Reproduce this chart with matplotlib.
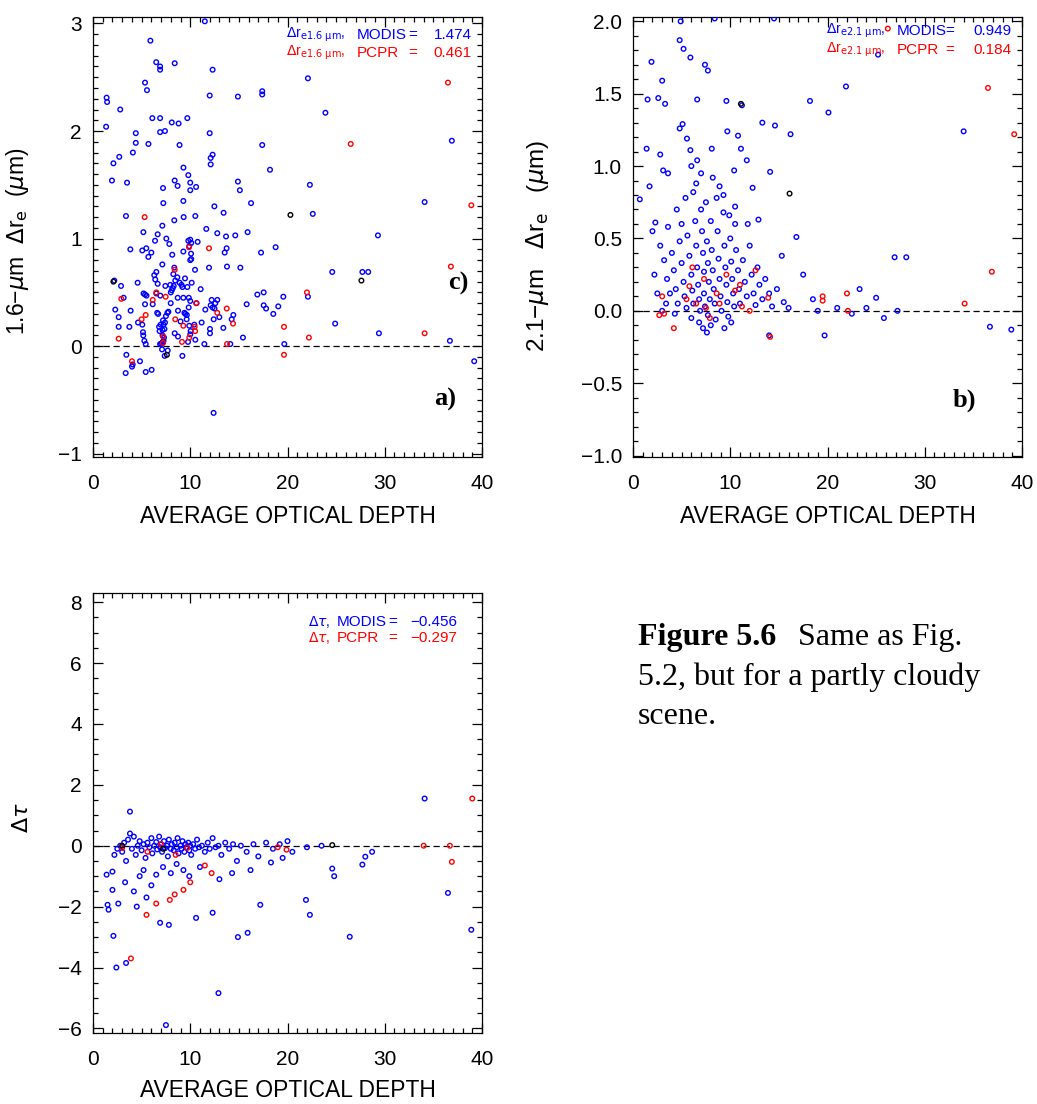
import matplotlib
matplotlib.use("Agg")
import matplotlib.pyplot as plt
import numpy as np
from matplotlib.ticker import MultipleLocator

plt.rcParams['font.family'] = ['Liberation Sans', 'DejaVu Sans']

BLUE = '#0000ff'
RED = '#ff0000'

# ---- panel a : 1.6 um delta r_e ----
a_modis = [
    (1.4, 2.31), (1.45, 2.27), (1.35, 2.04), (2.8, 2.2), (5.9, 2.84), (6.5, 2.64), (6.9, 2.6),
    (6.9, 2.57), (8.4, 2.63), (5.35, 2.45), (5.55, 2.38), (6.1, 2.12), (6.9, 2.12), (8.1, 2.08),
    (8.8, 2.07), (9.7, 2.12), (12.0, 2.33), (12.3, 2.57), (11.5, 3.02), (14.9, 2.32), (17.4, 2.37),
    (17.4, 2.34), (22.1, 2.49), (23.9, 2.17), (2.1, 1.70), (1.95, 1.54), (2.7, 1.76), (3.5, 1.52),
    (4.1, 1.80), (4.4, 1.89), (4.4, 1.98), (5.7, 1.88), (6.9, 1.99), (7.4, 2.0), (8.9, 1.87),
    (9.3, 1.66), (9.8, 1.59), (10.0, 1.52), (10.0, 1.45), (10.6, 1.48), (12.1, 1.69), (12.1, 1.75),
    (12.3, 1.78), (12.0, 1.98), (8.7, 1.49), (8.4, 1.54), (7.2, 1.47), (14.9, 1.53), (15.1, 1.45),
    (17.4, 1.87), (18.2, 1.64), (22.3, 1.5), (22.6, 1.23), (36.9, 1.91), (29.3, 1.03), (34.1, 1.34),
    (27.7, 0.69), (28.3, 0.69), (24.6, 0.69), (22.1, 0.46), (24.9, 0.21), (29.4, 0.12), (36.7, 0.05),
    (39.2, -0.14), (12.4, -0.62),
    (7.23, 1.33), (9.29, 1.35), (3.39, 1.21), (12.48, 1.30), (13.43, 1.24), (16.25, 1.33),
    (7.13, 1.12), (8.36, 1.17), (9.32, 1.20), (10.52, 1.21), (5.18, 1.06), (6.65, 1.04), (6.38, 0.98),
    (7.54, 1.0), (7.85, 0.95), (9.8, 0.98), (10.1, 0.96), (9.9, 0.93), (10.0, 0.99), (10.76, 0.97),
    (9.29, 0.88), (10.08, 0.86), (3.84, 0.90), (5.07, 0.89), (5.48, 0.91), (6.0, 0.87), (5.69, 0.83),
    (8.15, 0.85), (10.0, 0.80), (10.1, 0.81), (11.65, 1.09), (12.78, 1.05), (13.68, 1.02),
    (14.63, 1.03), (15.9, 1.06), (13.54, 0.87), (13.74, 0.91), (17.28, 0.87), (18.78, 0.92),
    (7.13, 0.76), (8.36, 0.73), (10.49, 0.71), (11.93, 0.73), (13.78, 0.74), (15.15, 0.73),
    (6.3, 0.66), (6.4, 0.62), (6.51, 0.69), (8.26, 0.67), (8.67, 0.64), (8.46, 0.61), (9.46, 0.63),
    (2.19, 0.61), (4.59, 0.59), (2.88, 0.56), (6.65, 0.58), (7.44, 0.56), (7.95, 0.57), (8.91, 0.59),
    (9.1, 0.57), (9.2, 0.55), (9.7, 0.55), (10.15, 0.59), (8.1, 0.52), (8.2, 0.54), (8.3, 0.56),
    (8.0, 0.50), (6.51, 0.49), (5.2, 0.49), (5.35, 0.48), (5.5, 0.47), (6.92, 0.47), (8.71, 0.45),
    (9.29, 0.45), (9.85, 0.45), (10.0, 0.42), (11.07, 0.53), (12.2, 0.43), (12.78, 0.43),
    (16.9, 0.48), (17.55, 0.50), (19.57, 0.46), (3.15, 0.45), (2.29, 0.34), (3.87, 0.33),
    (6.14, 0.39), (5.35, 0.39), (7.99, 0.40), (9.84, 0.36), (10.65, 0.40), (12.1, 0.38), (12.3, 0.36),
    (12.5, 0.35), (11.55, 0.34), (12.58, 0.40), (15.8, 0.39), (17.55, 0.38), (17.8, 0.35),
    (19.05, 0.37), (18.54, 0.30), (2.64, 0.27), (4.63, 0.22), (5.07, 0.20), (6.6, 0.31), (6.7, 0.30),
    (7.5, 0.28), (7.65, 0.31), (7.75, 0.32), (8.74, 0.33), (9.4, 0.31), (9.5, 0.30), (9.65, 0.29),
    (9.63, 0.25), (9.0, 0.23), (10.42, 0.20), (9.9, 0.19), (10.04, 0.14), (10.0, 0.11), (11.17, 0.22),
    (12.41, 0.25), (12.99, 0.27), (14.43, 0.29), (14.26, 0.25), (13.4, 0.17), (12.03, 0.16),
    (12.03, 0.12), (15.42, 0.08), (11.45, 0.02), (14.12, 0.02), (10.52, 0.06), (9.77, 0.04),
    (8.4, 0.12), (8.74, 0.09), (5.14, 0.13), (5.17, 0.10), (5.28, 0.05), (5.42, 0.02), (6.8, 0.18),
    (6.95, 0.20), (6.85, 0.14), (7.15, 0.15), (7.25, 0.20), (7.35, 0.16), (7.2, 0.24), (7.4, 0.22),
    (7.15, 0.10), (7.3, 0.08), (7.25, 0.05), (7.2, 0.04), (7.1, 0.03), (6.9, 0.02), (7.0, 0.02),
    (3.74, 0.18), (2.64, 0.18), (7.1, -0.03), (7.68, -0.04), (7.37, -0.09), (3.43, -0.08),
    (4.08, -0.17), (4.01, -0.19), (4.83, -0.14), (3.36, -0.25), (5.42, -0.24), (6.03, -0.22),
    (9.19, -0.09), (19.67, 0.02),
]
a_pcpr = [
    (5.31, 1.20), (9.87, 0.92), (11.93, 0.91), (8.4, 0.71), (7.47, 0.46), (6.51, 0.50), (6.14, 0.43),
    (2.91, 0.44), (10.6, 0.40), (13.75, 0.35), (5.0, 0.25), (5.42, 0.29), (8.46, 0.25), (9.29, 0.19),
    (10.45, 0.18), (10.5, 0.14), (12.78, 0.31), (14.4, 0.21), (13.78, 0.02), (9.9, 0.08),
    (9.15, 0.04), (7.2, 0.09), (7.2, 0.03), (2.64, 0.07), (4.01, -0.14), (19.64, 0.18),
    (19.64, -0.08), (36.5, 2.45), (26.5, 1.88), (38.9, 1.31), (36.8, 0.74), (22.0, 0.50),
    (34.1, 0.12), (22.2, 0.08),
]
a_other = [(20.3, 1.22), (27.6, 0.61), (2.1, 0.60), (7.6, -0.08)]

# ---- panel b : 2.1 um delta r_e ----
b_modis = [
    (4.9, 2.0), (8.4, 2.02), (14.5, 2.02), (25.2, 1.77), (1.5, 1.46), (2.6, 1.47), (1.9, 1.72),
    (3.0, 1.59), (4.8, 1.87), (5.2, 1.81), (5.9, 1.75), (7.4, 1.70), (7.7, 1.66), (6.6, 1.46),
    (9.6, 1.45), (11.2, 1.42), (13.3, 1.30), (14.6, 1.28), (18.2, 1.45), (20.1, 1.37), (21.9, 1.55),
    (34.0, 1.24), (0.7, 0.77), (1.7, 0.86), (2.8, 1.08), (3.1, 0.97), (3.6, 0.95), (4.8, 1.26),
    (5.1, 1.29), (5.55, 1.19), (5.9, 1.11), (6.6, 1.04), (8.1, 1.12), (9.7, 1.24), (10.8, 1.21),
    (11.1, 1.12), (11.7, 1.04), (14.1, 0.96), (16.2, 1.22), (2.0, 0.55), (2.3, 0.61), (26.9, 0.37),
    (23.3, 0.15), (25.0, 0.09), (19.7, -0.17), (38.9, -0.13), (36.7, -0.11),
    (1.4, 1.12), (3.3, 1.43), (6.0, 1.0), (6.5, 0.88), (7.0, 0.95), (8.2, 0.92), (8.9, 0.86),
    (9.3, 0.80), (10.4, 0.97), (12.3, 0.85), (12.9, 0.63), (10.5, 0.72), (11.8, 0.60), (15.3, 0.38),
    (16.8, 0.51), (17.5, 0.25), (18.5, 0.08), (21.0, 0.02), (24.0, 0.02), (25.8, -0.05),
    (28.1, 0.37), (22.5, -0.02), (19.0, 0.0), (27.2, 0.0),
    (3.2, 0.35), (3.5, 0.22), (3.8, 0.12), (3.4, 0.05), (4.0, 0.40), (4.2, 0.28), (4.4, 0.15),
    (4.6, 0.05), (4.3, -0.02), (4.8, 0.48), (5.0, 0.33), (5.2, 0.20), (5.3, 0.10), (5.5, 0.02),
    (5.0, 0.60), (5.6, 0.52), (5.8, 0.38), (6.0, 0.25), (6.1, 0.14), (6.2, 0.05), (6.0, -0.05),
    (6.4, 0.62), (6.5, 0.45), (6.6, 0.30), (6.7, 0.18), (6.8, 0.08), (6.9, 0.0), (6.8, -0.08),
    (7.0, 0.70), (7.1, 0.55), (7.2, 0.40), (7.3, 0.27), (7.3, 0.12), (7.4, 0.03), (7.2, -0.12),
    (7.6, 0.48), (7.7, 0.33), (7.8, 0.20), (7.9, 0.08), (7.7, -0.03), (8.0, 0.62), (8.1, 0.42),
    (8.2, 0.28), (8.3, 0.15), (8.4, 0.05), (8.5, -0.06), (8.7, 0.55), (8.8, 0.36), (8.9, 0.22),
    (9.0, 0.10), (9.1, 0.0), (9.3, 0.68), (9.4, 0.45), (9.5, 0.30), (9.6, 0.18), (9.7, 0.06),
    (9.8, -0.04), (10.0, 0.50), (10.1, 0.34), (10.2, 0.22), (10.3, 0.12), (10.4, 0.03),
    (10.6, 0.42), (10.8, 0.28), (10.9, 0.15), (11.0, 0.05), (11.3, 0.35), (11.5, 0.20),
    (11.7, 0.10), (12.0, 0.45), (12.2, 0.25), (12.4, 0.12), (12.6, 0.04), (12.8, 0.30),
    (13.0, 0.18), (13.3, 0.08), (13.6, 0.22), (14.0, 0.12), (14.3, 0.03), (14.8, 0.15),
    (15.5, 0.06), (16.0, 0.02), (3.0, 0.0), (2.5, 0.12), (2.2, 0.25), (2.8, 0.45), (3.6, 0.58),
    (4.5, 0.70), (5.4, 0.78), (6.2, 0.82), (7.5, 0.75), (8.6, 0.78), (9.9, 0.66), (10.5, 0.60),
    (7.6, -0.15), (8.0, -0.10), (9.4, -0.12), (10.1, -0.08), (14.0, -0.17),
]
b_pcpr = [
    (26.2, 1.95), (36.5, 1.54), (39.2, 1.22), (36.9, 0.27), (34.1, 0.05), (22.0, 0.12), (22.1, 0.0),
    (19.5, 0.10), (19.5, 0.07), (3.0, 0.10), (3.2, -0.02), (4.2, -0.12), (5.5, 0.08), (5.8, 0.17),
    (6.5, 0.05), (7.3, 0.22), (7.5, 0.02), (7.9, -0.05), (8.6, 0.12), (8.9, 0.05), (9.6, 0.25),
    (10.5, 0.14), (11.0, 0.18), (11.2, 0.03), (12.6, 0.28), (12.0, 0.0), (14.1, -0.18),
    (13.9, 0.09), (6.1, 0.3), (2.7, -0.03),
]
b_other = [(11.1, 1.43), (16.1, 0.81)]

# ---- panel c : delta tau ----
c_modis = [
    (2.0, -0.85), (2.2, -0.3), (2.5, -0.1), (2.8, 0.0), (3.0, -0.2), (3.2, 0.1), (3.4, -0.5),
    (3.6, 0.2), (3.8, 0.4), (3.8, 1.12), (4.0, -0.1), (4.2, 0.3), (4.4, -0.3), (4.6, 0.0),
    (4.8, 0.15), (5.0, -0.15), (5.2, 0.05), (5.4, -0.4), (5.6, 0.1), (5.8, -0.05), (6.0, 0.25),
    (6.1, -0.25), (6.3, 0.0), (6.5, 0.12), (6.6, -0.12), (6.8, 0.3), (6.9, -0.05), (7.0, 0.05),
    (7.1, -0.2), (7.3, 0.15), (7.4, -0.08), (7.6, 0.0), (7.7, -0.35), (7.8, 0.2), (8.0, -0.1),
    (8.1, 0.05), (8.3, -0.15), (8.4, 0.1), (8.6, -0.05), (8.7, 0.25), (8.8, -0.25), (9.0, 0.0),
    (9.1, -0.1), (9.2, 0.15), (9.4, -0.2), (9.5, 0.05), (9.6, -0.05), (9.8, 0.1), (9.9, -0.15),
    (10.0, 0.0), (10.1, -0.3), (10.3, 0.05), (10.5, -0.1), (10.7, 0.2), (10.9, -0.05), (11.2, 0.0),
    (11.5, -0.2), (11.8, 0.1), (12.0, -0.1), (12.3, 0.25), (12.6, -0.05), (12.9, 0.0),
    (13.2, -0.3), (13.6, 0.1), (14.0, -0.1), (14.4, 0.05), (14.8, -0.5), (15.2, 0.0), (15.8, -0.2),
    (16.5, 0.05), (17.0, -0.35), (17.8, 0.1), (18.5, -0.1), (19.2, 0.05), (20.0, 0.15),
    (20.5, -0.2), (22.0, -0.05), (23.5, 0.0),
    (1.5, -1.94), (1.6, -2.1), (1.4, -0.95), (2.0, -1.45), (2.6, -1.9), (2.1, -2.96), (2.4, -4.0),
    (3.4, -3.85), (3.3, -1.2), (4.2, -1.5), (4.8, -1.0), (5.2, -0.8), (6.0, -1.3), (6.5, -0.95),
    (6.9, -2.53), (7.8, -2.6), (7.2, -0.7), (8.0, -0.9), (8.6, -0.6), (9.3, -0.8), (9.9, -1.0),
    (10.6, -2.37), (11.0, -0.7), (12.3, -2.2), (12.9, -4.84), (7.5, -5.89), (14.9, -3.0),
    (15.9, -2.86), (17.2, -1.94), (13.0, -1.1), (14.3, -0.9), (16.2, -0.8), (18.3, -0.55),
    (19.5, -0.4), (21.9, -1.78), (22.3, -2.27), (24.8, -1.0), (24.6, -0.75), (26.4, -2.99),
    (27.7, -0.62), (28.0, -0.36), (28.7, -0.2), (36.5, -1.55), (38.9, -2.76), (34.1, 1.55),
    (5.5, -1.7), (4.5, -2.0),
]
c_pcpr = [
    (39.0, 1.55), (36.7, 0.0), (36.9, -0.53), (3.9, -3.7), (5.5, -2.27), (7.9, -1.78), (8.4, -1.6),
    (9.3, -1.45), (10.0, -1.2), (6.5, -1.9), (3.0, -0.07), (5.6, -0.2), (9.7, -0.07), (11.5, -0.65),
    (12.2, -0.9), (19.9, -0.13), (19.0, -0.05), (34.0, 0.0), (7.0, 0.05), (8.5, -0.3),
]
c_other = [(3.0, 0.0), (7.2, -0.1), (24.6, 0.02)]

a_stats = ['1.474', '0.461']
b_stats = ['0.949', '0.184']
c_stats = ['\u22120.456', '\u22120.297']


def draw_points(ax, pts, color):
    p = np.array(pts)
    ax.scatter(p[:, 0], p[:, 1], s=11, facecolors='none', edgecolors=color,
               linewidths=1.0, zorder=3)


def style_axes(ax, ylim, ymaj, ymin):
    ax.set_xlim(0, 40)
    ax.set_ylim(*ylim)
    ax.xaxis.set_major_locator(MultipleLocator(10))
    ax.xaxis.set_minor_locator(MultipleLocator(1))
    ax.yaxis.set_major_locator(MultipleLocator(ymaj))
    ax.yaxis.set_minor_locator(MultipleLocator(ymin))
    ax.tick_params(which='both', direction='in', top=True, right=True, width=0.9)
    ax.tick_params(which='major', length=7, labelsize=15)
    ax.tick_params(which='minor', length=3.5)
    ax.tick_params(axis='x', pad=12)
    ax.tick_params(axis='y', pad=8)
    for s in ax.spines.values():
        s.set_linewidth(0.9)
    ax.axhline(0, color='black', lw=0.9, ls=(0, (5, 3)), zorder=2)


def stats_text(ax, name, vals, xs, ys):
    for (lab, col, val, y) in [('MODIS', BLUE, vals[0], ys[0]), ('PCPR', RED, vals[1], ys[1])]:
        ax.text(xs[0], y, name, color=col, fontsize=10, transform=ax.transAxes, ha='left', va='center')
        ax.text(xs[1], y, lab, color=col, fontsize=11, transform=ax.transAxes, ha='left', va='center')
        ax.text(xs[2], y, '=', color=col, fontsize=11, transform=ax.transAxes, ha='center', va='center')
        ax.text(xs[3], y, val, color=col, fontsize=11, transform=ax.transAxes, ha='right', va='center')


fig = plt.figure(figsize=(10.37, 11.04), dpi=100)
W, H = 1037.0, 1104.0
axa = fig.add_axes([93 / W, (H - 457) / H, 389 / W, 440 / H])
axb = fig.add_axes([633 / W, (H - 457) / H, 389 / W, 440 / H])
axc = fig.add_axes([93 / W, (H - 1033) / H, 389 / W, 440 / H])

# panel a
style_axes(axa, (-1.03, 3.06), 1, 0.1)
draw_points(axa, a_modis, BLUE)
draw_points(axa, a_pcpr, RED)
draw_points(axa, a_other, 'black')
axa.set_ylabel('1.6\u2212$\\mu$m  $\\Delta$r$_{\\rm e}$  ($\\mu$m)', fontsize=16.5)
axa.yaxis.set_label_coords(-0.16, 0.49)
axa.set_xlabel('AVERAGE OPTICAL DEPTH', fontsize=16.5)
axa.xaxis.set_label_coords(0.5, -0.108)
stats_text(axa, '$\\Delta$r$_{\\rm e1.6\\ \\mu m}$,', a_stats, [0.497, 0.677, 0.823, 0.974], [0.959, 0.918])
axa.text(0.938, 0.395, 'c)', transform=axa.transAxes, fontsize=19, fontweight='bold',
         family='Liberation Serif', ha='center', va='center')
axa.text(0.905, 0.13, 'a)', transform=axa.transAxes, fontsize=19, fontweight='bold',
         family='Liberation Serif', ha='center', va='center')

# panel b
style_axes(axb, (-1.01, 2.03), 0.5, 0.1)
axb.yaxis.set_major_formatter(matplotlib.ticker.FuncFormatter(
    lambda v, p: ('%.1f' % v).replace('-', '\u2212')))
draw_points(axb, b_modis, BLUE)
draw_points(axb, b_pcpr, RED)
draw_points(axb, b_other, 'black')
axb.set_ylabel('2.1\u2212$\\mu$m   $\\Delta$r$_{\\rm e}$   ($\\mu$m)', fontsize=17.5)
axb.yaxis.set_label_coords(-0.21, 0.48)
axb.set_xlabel('AVERAGE OPTICAL DEPTH', fontsize=16.5)
axb.xaxis.set_label_coords(0.5, -0.108)
stats_text(axb, '$\\Delta$r$_{\\rm e2.1\\ \\mu m}$,', b_stats, [0.495, 0.677, 0.815, 0.974], [0.968, 0.925])
axb.text(0.853, 0.13, 'b)', transform=axb.transAxes, fontsize=19, fontweight='bold',
         family='Liberation Serif', ha='center', va='center')

# panel c
style_axes(axc, (-6.15, 8.3), 2, 0.5)
draw_points(axc, c_modis, BLUE)
draw_points(axc, c_pcpr, RED)
draw_points(axc, c_other, 'black')
axc.set_ylabel('$\\Delta\\tau$', fontsize=16)
axc.yaxis.set_label_coords(-0.154, 0.49)
axc.set_xlabel('AVERAGE OPTICAL DEPTH', fontsize=16.5)
axc.xaxis.set_label_coords(0.5, -0.105)
stats_text(axc, '$\\Delta\\tau$,', c_stats, [0.553, 0.627, 0.771, 0.936], [0.934, 0.898])

# caption
cap = dict(family='Liberation Serif', fontsize=23, va='center', ha='left')
fig.text(638 / W, 1 - 637 / H, 'Figure 5.6', fontweight='bold', **cap)
fig.text(798 / W, 1 - 637 / H, 'Same as Fig.', **cap)
fig.text(638 / W, 1 - 677 / H, '5.2, but for a partly cloudy', **cap)
fig.text(638 / W, 1 - 716 / H, 'scene.', **cap)

fig.savefig('out.png', dpi=100)
